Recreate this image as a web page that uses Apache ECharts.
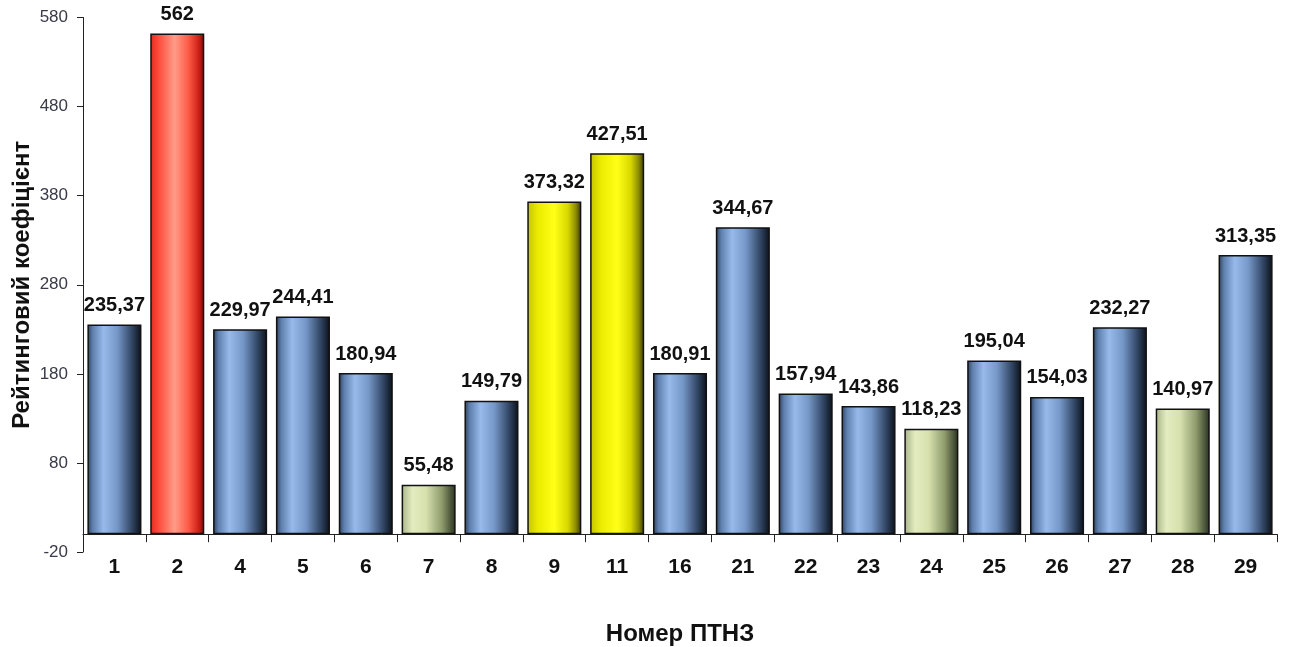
<!DOCTYPE html>
<html>
<head>
<meta charset="utf-8">
<script src="https://cdn.jsdelivr.net/npm/echarts@6/dist/echarts.min.js"></script>
<style>
html,body{margin:0;padding:0;background:#fff;}
#c{width:1295px;height:647px;}
</style>
</head>
<body>
<div id="c"></div>
<script>
const categories = ['1','2','4','5','6','7','8','9','11','16','21','22','23','24','25','26','27','28','29'];
const values = [235.37, 562, 229.97, 244.41, 180.94, 55.48, 149.79, 373.32, 427.51, 180.91, 344.67, 157.94, 143.86, 118.23, 195.04, 154.03, 232.27, 140.97, 313.35];
const colorKeys = ['blue','red','blue','blue','blue','green','blue','yellow','yellow','blue','blue','blue','blue','green','blue','blue','blue','green','blue'];
const yTicks = {min: -20, max: 580, interval: 100};
const xTitle = 'Номер ПТНЗ';
const yTitle = 'Рейтинговий коефіцієнт';

function grad(stops){
  return new echarts.graphic.LinearGradient(0,0,1,0, stops.map(s=>({offset:s[0], color:s[1]})));
}
const palettes = {
  blue: [[0,'#2c3f5c'],[0.1,'#5f80ae'],[0.3,'#97baeb'],[0.55,'#7698c8'],[0.82,'#324766'],[1,'#0a1018']],
  red: [[0,'#e02a1e'],[0.15,'#ff4a3a'],[0.45,'#ff9c88'],[0.7,'#ff5c48'],[0.9,'#cc2015'],[1,'#6e0a05']],
  yellow: [[0,'#c4c400'],[0.2,'#ecec00'],[0.5,'#ffff18'],[0.75,'#d8d800'],[0.9,'#8a8a00'],[1,'#383800']],
  green: [[0,'#a8b488'],[0.2,'#e2ecbf'],[0.45,'#d6e1ae'],[0.75,'#8d9a6a'],[1,'#283020']]
};

const chart = echarts.init(document.getElementById('c'));
chart.setOption({
  animation: false,
  backgroundColor: '#ffffff',
  textStyle: {fontFamily: 'Arial, "Liberation Sans", sans-serif'},
  grid: {left: 83, right: 18, top: 17.5, bottom: 95, containLabel: false, outerBoundsMode: 'none'},
  xAxis: {
    type: 'category',
    data: categories,
    name: xTitle,
    nameLocation: 'middle',
    nameGap: 70,
    nameMoveOverlap: false,
    nameTextStyle: {fontSize: 24, fontWeight: 'bold', color: '#111'},
    axisLine: {onZero: true, lineStyle: {color: '#222', width: 1}},
    axisTick: {show: true, length: 8, lineStyle: {color: '#222'}},
    axisLabel: {fontSize: 21, fontWeight: 'bold', color: '#111', margin: 5}
  },
  yAxis: {
    type: 'value',
    min: yTicks.min,
    max: yTicks.max,
    interval: yTicks.interval,
    name: yTitle,
    nameLocation: 'middle',
    nameGap: 49,
    nameMoveOverlap: false,
    nameTextStyle: {fontSize: 24, fontWeight: 'bold', color: '#111'},
    axisLine: {show: true, lineStyle: {color: '#222', width: 1}},
    axisTick: {show: true, length: 6, lineStyle: {color: '#222'}},
    axisLabel: {fontSize: 17, color: '#3a3a48', margin: 15},
    splitLine: {show: false}
  },
  series: [{
    type: 'bar',
    barCategoryGap: '14%',
    data: values.map((v,i)=>({
      value: v,
      itemStyle: {color: grad(palettes[colorKeys[i]]), borderColor: '#111', borderWidth: 1.5}
    })),
    label: {
      show: true,
      position: 'top',
      distance: 9,
      fontSize: 20,
      fontWeight: 'bold',
      color: '#111',
      formatter: p => String(p.value).replace('.', ',')
    }
  }]
});
</script>
</body>
</html>
